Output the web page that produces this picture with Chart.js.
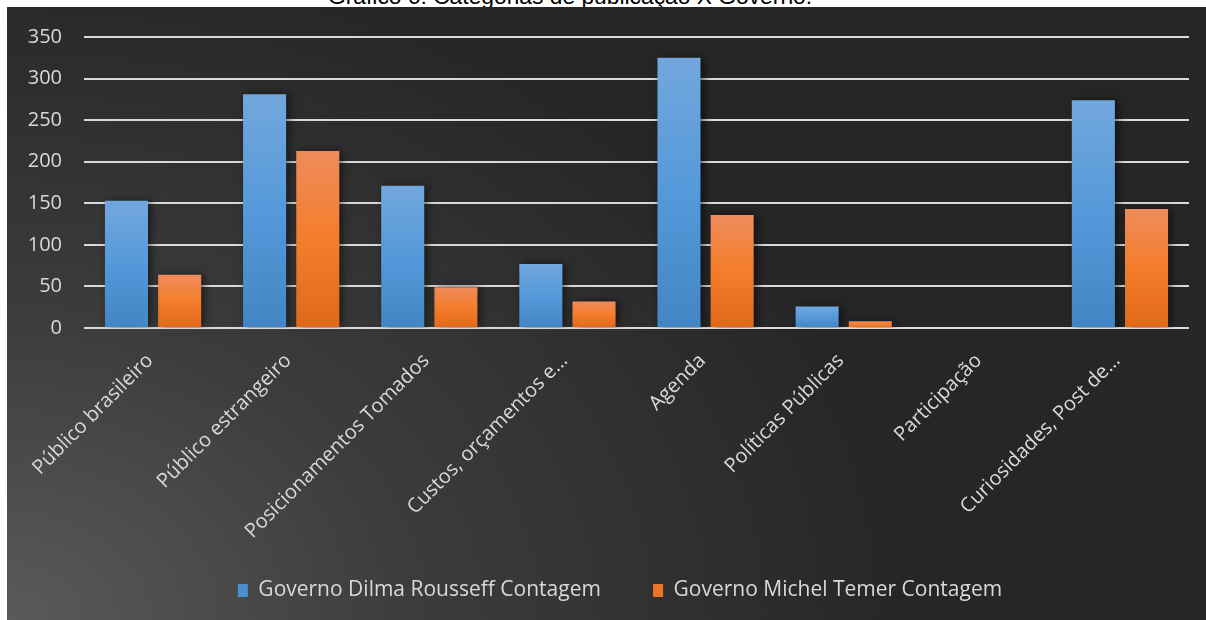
<!DOCTYPE html>
<html lang="pt">
<head>
<meta charset="UTF-8">
<title>Categorias de publicação X Governo</title>
<script src="https://cdn.jsdelivr.net/npm/chart.js"></script>
<style>
    body {
        margin: 0;
        background: #ffffff;
        width: 1206px;
        height: 620px;
        overflow: hidden;
        position: relative;
    }
    #titulo {
        position: absolute;
        left: 328px;
        top: -17px;
        font-family: Arial, "Liberation Sans", sans-serif;
        font-size: 22.8px;
        color: #000;
        white-space: nowrap;
    }
    #painel {
        position: absolute;
        left: 7px;
        top: 7px;
        width: 1199px;
        height: 613px;
        background: radial-gradient(ellipse 75% 110% at 0% 100%, #5a5a5a 0%, #3c3c3c 45%, #262626 100%);
    }
</style>
</head>
<body>
<div id="titulo">Gráfico 6: Categorias de publicação X Governo.</div>
<div id="painel"><canvas id="grafico"></canvas></div>

<script>
// categorias e contagens por governo
const categorias = [
    "Público brasileiro",
    "Público estrangeiro",
    "Posicionamentos Tomados",
    "Custos, orçamentos e…",
    "Agenda",
    "Políticas Públicas",
    "Participação",
    "Curiosidades, Post de…"
];
const dilma = [153, 281, 171, 77, 325, 26, 0, 274];
const temer = [64, 213, 49, 32, 136, 8, 0, 143];
const ticksY = [0, 50, 100, 150, 200, 250, 300, 350];

// degradê vertical em cada barra (mais claro no topo)
function degrade(cores) {
    return function (context) {
        const chart = context.chart;
        const y = chart.scales.y;
        if (!y || context.parsed === undefined) return cores[1];
        const topo = y.getPixelForValue(context.parsed.y);
        const base = y.getPixelForValue(0);
        if (!isFinite(topo) || base - topo < 1) return cores[1];
        const g = chart.ctx.createLinearGradient(0, topo, 0, base);
        g.addColorStop(0, cores[0]);
        g.addColorStop(0.5, cores[1]);
        g.addColorStop(1, cores[2]);
        return g;
    };
}

// sombra leve atrás das barras
const sombraBarras = {
    id: 'sombraBarras',
    beforeDatasetsDraw(chart) {
        const ctx = chart.ctx;
        ctx.save();
        ctx.shadowColor = 'rgba(0,0,0,0.55)';
        ctx.shadowBlur = 8;
        ctx.shadowOffsetX = 3;
        ctx.shadowOffsetY = 0;
    },
    afterDatasetsDraw(chart) {
        chart.ctx.restore();
    }
};

// empurra a legenda um pouco para a direita
const deslocaLegenda = {
    id: 'deslocaLegenda',
    afterLayout(chart) {
        const lg = chart.legend;
        if (lg) { lg.left += 22; lg.right += 22; }
    }
};

const cinzaTexto = '#d9d9d9';

new Chart(document.getElementById('grafico'), {
    type: 'bar',
    data: {
        labels: categorias,
        datasets: [
            {
                label: 'Governo Dilma Rousseff Contagem',
                data: dilma,
                backgroundColor: degrade(['#72a7dd', '#5599da', '#4385c4']),
                categoryPercentage: 0.77,
                barPercentage: 0.81
            },
            {
                label: 'Governo Michel Temer Contagem',
                data: temer,
                backgroundColor: degrade(['#ef8c5c', '#f47d2b', '#e1681a']),
                categoryPercentage: 0.77,
                barPercentage: 0.81
            }
        ]
    },
    options: {
        responsive: true,
        maintainAspectRatio: false,
        animation: false,
        layout: {
            padding: { top: 30, right: 17, bottom: 9, left: 0 }
        },
        plugins: {
            tooltip: { enabled: false },
            legend: {
                position: 'bottom',
                labels: {
                    color: cinzaTexto,
                    font: { family: '"Open Sans", sans-serif', size: 21 },
                    boxWidth: 10,
                    boxHeight: 13,
                    padding: 14,
                    generateLabels(chart) {
                        const itens = Chart.defaults.plugins.legend.labels.generateLabels(chart);
                        const cores = ['#4a8fd2', '#ee7424'];
                        itens.forEach((it, i) => {
                            it.fillStyle = cores[i];
                            it.strokeStyle = cores[i];
                            it.lineWidth = 0;
                            if (i === 0) it.text = it.text + '       ';
                        });
                        return itens;
                    }
                }
            }
        },
        scales: {
            x: {
                grid: { display: false },
                border: { display: false },
                ticks: {
                    color: cinzaTexto,
                    font: { family: '"Open Sans", sans-serif', size: 20 },
                    minRotation: 45,
                    maxRotation: 45,
                    autoSkip: false,
                    padding: 13,
                    labelOffset: -3
                },
                afterFit(scale) { scale.height = 238; }
            },
            y: {
                min: 0,
                max: 350,
                border: { display: false },
                grid: {
                    color: '#d9d9d9',
                    lineWidth: 2,
                    drawTicks: false
                },
                afterBuildTicks(scale) {
                    scale.ticks = ticksY.map(v => ({ value: v }));
                },
                ticks: {
                    color: cinzaTexto,
                    font: { family: '"Open Sans", sans-serif', size: 20 },
                    padding: 22
                },
                afterFit(scale) {
                    scale.width = 77;
                    // o topo da área fica definido só pelo layout.padding
                    scale.paddingTop = 0;
                    scale.paddingBottom = 0;
                }
            }
        }
    },
    plugins: [sombraBarras, deslocaLegenda]
});
</script>
</body>
</html>
